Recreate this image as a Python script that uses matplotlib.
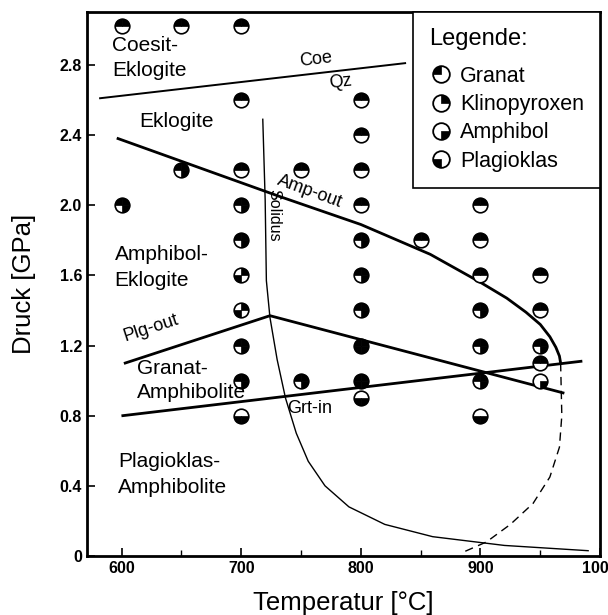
import numpy as np
import matplotlib
matplotlib.use("Agg")
import matplotlib.pyplot as plt
from matplotlib.path import Path
from matplotlib.lines import Line2D

plt.rcParams['font.family'] = ['Liberation Sans', 'DejaVu Sans']

# Probenpunkte: Temperatur [°C], Druck [GPa] und Phasen (1 = vorhanden)
temp = [600, 650, 700, 700, 800, 800, 650, 700, 750, 800,
        600, 700, 800, 900, 700, 800, 850, 900, 700, 800,
        900, 950, 700, 800, 900, 950, 700, 800, 900, 950,
        950, 700, 750, 800, 900, 950, 700, 800, 900]
druck = [3.02, 3.02, 3.02, 2.6, 2.6, 2.4, 2.2, 2.2, 2.2, 2.2,
         2.0, 2.0, 2.0, 2.0, 1.8, 1.8, 1.8, 1.8, 1.6, 1.6,
         1.6, 1.6, 1.4, 1.4, 1.4, 1.4, 1.2, 1.2, 1.2, 1.2,
         1.1, 1.0, 1.0, 1.0, 1.0, 1.0, 0.8, 0.9, 0.8]
granat = [1, 1, 1, 1, 1, 1, 1, 1, 1, 1,
          1, 1, 1, 1, 1, 1, 1, 1, 0, 1,
          1, 1, 0, 1, 1, 1, 1, 1, 1, 1,
          1, 1, 1, 1, 1, 0, 0, 0, 0]
klinopyroxen = [1, 1, 1, 1, 1, 1, 1, 1, 1, 1,
                1, 1, 1, 1, 1, 1, 1, 1, 1, 1,
                1, 1, 1, 1, 1, 1, 1, 1, 1, 1,
                1, 1, 1, 1, 1, 0, 0, 0, 0]
amphibol = [0, 0, 0, 0, 0, 0, 1, 0, 0, 0,
            1, 1, 0, 0, 1, 1, 0, 0, 0, 1,
            0, 0, 0, 1, 1, 0, 1, 1, 1, 1,
            0, 1, 1, 1, 1, 1, 1, 1, 1]
plagioklas = [0, 0, 0, 0, 0, 0, 0, 0, 0, 0,
              0, 0, 0, 0, 0, 0, 0, 0, 1, 0,
              0, 0, 1, 0, 0, 0, 0, 1, 0, 0,
              0, 0, 0, 1, 0, 0, 1, 1, 1]

# Phasengrenzen
coe_t = [582, 837]
coe_p = [2.61, 2.81]
amp_t = [597, 732, 800, 858, 900, 922, 938, 950, 958, 963, 966, 967]
amp_p = [2.38, 2.05, 1.89, 1.72, 1.56, 1.47, 1.39, 1.32, 1.25, 1.19, 1.14, 1.10]
plg_t = [603, 724, 969]
plg_p = [1.10, 1.37, 0.93]
grt_t = [601, 984]
grt_p = [0.80, 1.11]
sol_t = [718, 720, 721, 724, 730, 737, 746, 756, 770, 790, 820, 860, 920, 990]
sol_p = [2.49, 2.03, 1.57, 1.36, 1.12, 0.90, 0.70, 0.54, 0.40, 0.28, 0.18, 0.11, 0.06, 0.03]
dash_t = [967, 968, 966, 958, 944, 925, 905, 885]
dash_p = [1.10, 0.80, 0.62, 0.45, 0.30, 0.18, 0.08, 0.02]

fig = plt.figure(figsize=(6.08, 6.15), dpi=100)
ax = fig.add_axes([0.143, 0.096, 0.844, 0.884])

ax.plot(coe_t, coe_p, color='black', lw=1.4)
ax.plot(amp_t, amp_p, color='black', lw=2)
ax.plot(plg_t, plg_p, color='black', lw=2)
ax.plot(grt_t, grt_p, color='black', lw=2)
ax.plot(sol_t, sol_p, color='black', lw=1)
ax.plot(dash_t, dash_p, color='black', lw=1, ls=(0, (6, 4)))

# Symbole: Kreis + gefuellte Viertel
quad = {'Granat': Path.wedge(90, 180), 'Klinopyroxen': Path.wedge(0, 90),
        'Amphibol': Path.wedge(270, 360), 'Plagioklas': Path.wedge(180, 270)}
ms = 10.5
t = np.array(temp)
p = np.array(druck)
ax.plot(t, p, 'o', ms=ms, mfc='white', mec='black', mew=1.2, zorder=3)
for name, flags in [('Granat', granat), ('Klinopyroxen', klinopyroxen),
                    ('Amphibol', amphibol), ('Plagioklas', plagioklas)]:
    m = np.array(flags) == 1
    ax.plot(t[m], p[m], ls='none', marker=quad[name], ms=ms, mfc='black',
            mec='black', mew=0.5, zorder=4)

# Legende
lms = 12
handles = []
for name in ['Granat', 'Klinopyroxen', 'Amphibol', 'Plagioklas']:
    c = Line2D([], [], ls='none', marker='o', ms=lms, mfc='white', mec='black', mew=1.3)
    w = Line2D([], [], ls='none', marker=quad[name], ms=lms, mfc='black', mec='black', mew=0.5)
    handles.append((c, w))
leg = ax.legend(handles, ['Granat', 'Klinopyroxen', 'Amphibol', 'Plagioklas'],
                title='Legende:', loc='upper right', fancybox=False, framealpha=1,
                edgecolor='black', fontsize=15.5, title_fontsize=17,
                handletextpad=0.35, handlelength=1.1, borderaxespad=0.0,
                labelspacing=0.34, borderpad=0.75,
                bbox_to_anchor=(1.0, 1.0))
leg.get_frame().set_linewidth(1.2)
leg._legend_box.align = 'left'
leg._legend_box.sep = 11

fs = 15
ax.text(592, 2.91, 'Coesit-', fontsize=fs, va='center')
ax.text(592, 2.77, 'Eklogite', fontsize=fs, va='center')
ax.text(762, 2.83, 'Coe', fontsize=13, ha='center', va='center', rotation=7)
ax.text(783, 2.70, 'Qz', fontsize=13, ha='center', va='center', rotation=7)
ax.text(646, 2.48, 'Eklogite', fontsize=fs, ha='center', va='center')
ax.text(757, 2.08, 'Amp-out', fontsize=13, ha='center', va='center', rotation=-20)
ax.text(594, 1.72, 'Amphibol-', fontsize=fs, va='center')
ax.text(594, 1.57, 'Eklogite', fontsize=fs, va='center')
ax.text(727, 1.94, 'Solidus', fontsize=11.5, ha='center', va='center', rotation=-90)
ax.text(625, 1.30, 'Plg-out', fontsize=13, ha='center', va='center', rotation=18)
ax.text(613, 1.07, 'Granat-', fontsize=fs, va='center')
ax.text(613, 0.93, 'Amphibolite', fontsize=fs, va='center')
ax.text(757, 0.84, 'Grt-in', fontsize=13, ha='center', va='center')
ax.text(597, 0.54, 'Plagioklas-', fontsize=fs, va='center')
ax.text(597, 0.39, 'Amphibolite', fontsize=fs, va='center')

ax.set_xlim(571, 1000)
ax.set_ylim(0, 3.1)
ax.set_xticks([600, 700, 800, 900, 1000])
ax.set_xticks([650, 750, 850, 950], minor=True)
ax.set_yticks([0, 0.4, 0.8, 1.2, 1.6, 2.0, 2.4, 2.8])
ax.set_yticklabels(['0', '0.4', '0.8', '1.2', '1.6', '2.0', '2.4', '2.8'])
ax.tick_params(direction='in', length=6, width=1.2, labelsize=11.5)
ax.tick_params(which='minor', direction='in', length=4, width=1)
for lab in ax.get_xticklabels() + ax.get_yticklabels():
    lab.set_fontweight('bold')
for s in ax.spines.values():
    s.set_linewidth(2)
ax.set_xlabel('Temperatur [°C]', fontsize=18.5, labelpad=11)
ax.set_ylabel('Druck [GPa]', fontsize=18.5, labelpad=17)

fig.savefig('out.png', dpi=100)
